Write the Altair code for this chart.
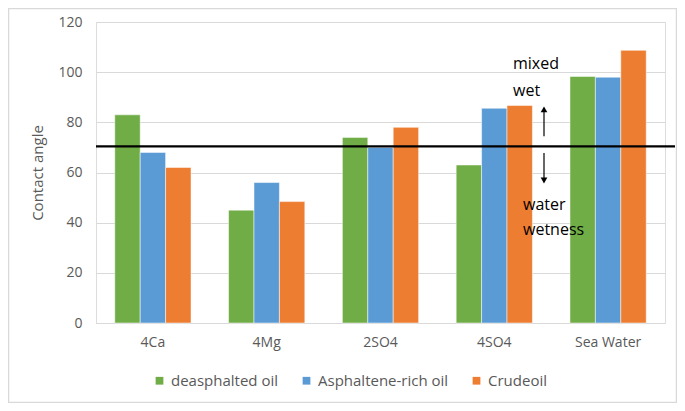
import altair as alt
import pandas as pd

categories = ["4Ca", "4Mg", "2SO4", "4SO4", "Sea Water"]
series = ["deasphalted oil", "Asphaltene-rich oil", "Crudeoil"]
colors = ["#70AD47", "#5B9BD5", "#ED7D31"]

deasphalted = [83, 45, 74, 63, 98.3]
asphaltene_rich = [68, 56, 70, 85.6, 98]
crude = [62, 48.4, 78, 86.7, 108.7]

threshold = 70.4

rows = []
for name, vals in zip(series, [deasphalted, asphaltene_rich, crude]):
    for cat, v in zip(categories, vals):
        rows.append({"category": cat, "series": name, "angle": v})
df = pd.DataFrame(rows)

FONT = "Open Sans"
GREY = "#595959"

bars = alt.Chart(df).mark_bar(stroke="white", strokeWidth=0.5).encode(
    x=alt.X(
        "category:N",
        sort=categories,
        title=None,
        scale=alt.Scale(paddingInner=0.33, paddingOuter=0.165),
        axis=alt.Axis(labelAngle=0, ticks=False, domainColor="#d9d9d9",
                      labelPadding=12, labelFontSize=14, labelColor=GREY),
    ),
    xOffset=alt.XOffset("series:N", sort=series),
    y=alt.Y(
        "angle:Q",
        title="Contact angle",
        scale=alt.Scale(domain=[0, 120]),
        axis=alt.Axis(values=[0, 20, 40, 60, 80, 100, 120], ticks=False, domain=False,
                      gridColor="#d9d9d9", labelPadding=14, labelFontSize=14,
                      labelColor=GREY, titleFontSize=15, titleColor=GREY,
                      titleFontWeight="normal", titlePadding=12),
    ),
    color=alt.Color(
        "series:N",
        scale=alt.Scale(domain=series, range=colors),
        legend=alt.Legend(title=None, orient="none", direction="horizontal",
                          legendX=56, legendY=351, symbolType="square",
                          symbolSize=60, symbolStrokeWidth=0, labelFontSize=15,
                          labelColor=GREY, columnPadding=20, labelOffset=4),
    ),
)

line_df = pd.DataFrame({"y": [threshold]})
hline = alt.Chart(line_df).mark_rule(color="black", strokeWidth=2.2).encode(
    y="y:Q", x=alt.value(0), x2=alt.value(579)
)

labels_df = pd.DataFrame({
    "text": ["mixed", "wet", "water", "wetness"],
    "y": [103.3, 92.5, 47, 37],
    "x": [417, 417, 427, 427],
})
labels = alt.Chart(labels_df).mark_text(
    align="left", baseline="middle", fontSize=16, font=FONT, color="black"
).encode(y="y:Q", x=alt.X("x:Q", scale=None), text="text:N")

shafts_df = pd.DataFrame({"y": [74.5, 67.8], "y2": [84.5, 57.5]})
shafts = alt.Chart(shafts_df).mark_rule(color="black", strokeWidth=1.2).encode(
    y="y:Q", y2="y2:Q", x=alt.value(448)
)

heads_df = pd.DataFrame({"y": [85.2, 56.8], "shape": ["triangle-up", "triangle-down"]})
heads = alt.Chart(heads_df).mark_point(
    filled=True, color="black", size=45, opacity=1
).encode(
    y="y:Q", x=alt.value(448),
    shape=alt.Shape("shape:N", scale=None),
)

frame = alt.Chart(line_df).mark_rect(
    fill=None, stroke="#d9d9d9", strokeWidth=1.5
).encode(
    x=alt.value(-87.5), x2=alt.value(580.5), y=alt.value(-13.5), y2=alt.value(380.5)
)

chart = alt.layer(bars, hline, shafts, heads, labels, frame).properties(
    width=569, height=301,
    autosize=alt.AutoSizeParams(type="none"),
    padding={"left": 88, "top": 14, "right": 12, "bottom": 80},
).configure_view(stroke=None).configure(
    font=FONT,
)

chart.save("out.html", embed_options={"renderer": "svg", "actions": False})
